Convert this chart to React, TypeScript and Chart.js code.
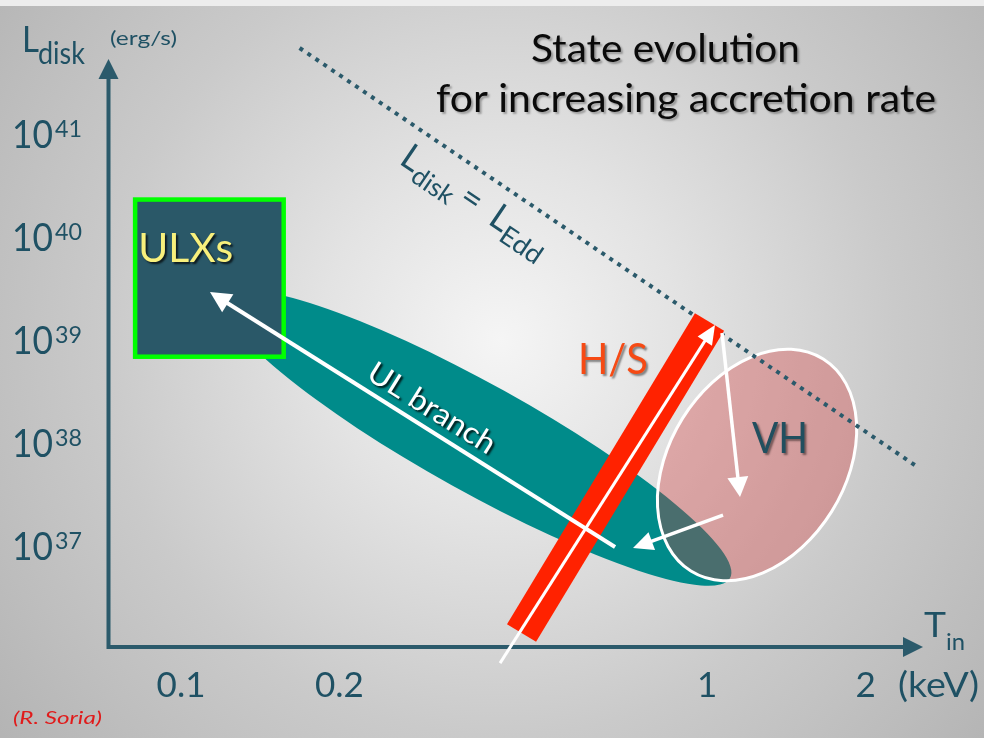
import React, { useEffect, useRef } from 'react';
import { Chart, registerables } from 'chart.js';

Chart.register(...registerables);

const FONT = 'Lato, "Open Sans", "DejaVu Sans", sans-serif';

// ---- axes (T_in in keV, L_disk in erg/s) ----
const xRange = [0.0728, 2.571];
const yRange = [1.045e36, 5.41e41];
const xTickValues = [0.1, 0.2, 1, 2];
const xTickLabels = ['0.1', '0.2', '1', '2'];
const yTickExponents = [37, 38, 39, 40, 41];

// ---- Eddington limit line: L_disk = L_Edd ----
const eddT = [0.168, 2.48];
const eddL = [6.92e41, 6.13e37];

// ---- ULX box (corners) ----
const ulxT = [0.0818, 0.1567];
const ulxL = [6.92e38, 2.33e40];

// ---- UL branch ellipse: centre, major-axis end, minor-axis end ----
const ulT = [0.3667, 1.105, 0.4113];
const ulL = [1.121e38, 4.89e36, 3.226e38];

// ---- VH ellipse: centre, major-axis end, minor-axis end ----
const vhT = [1.2437, 1.6613, 1.7234];
const vhL = [6.13e37, 6.57e38, 2.16e37];

// ---- H/S band ----
const hsT = [0.4437, 1.0101];
const hsL = [1.427e36, 1.503e39];

// ---- arrows: [tail, tip] ----
const arrowHsT = [0.4039, 1.0347];
const arrowHsL = [7.29e35, 1.405e39];
const arrowUlT = [0.6681, 0.1135];
const arrowUlL = [9.78e36, 2.94e39];
const arrowVhDownT = [1.0669, 1.1544];
const arrowVhDownL = [1.175e39, 2.995e37];
const arrowVhLeftT = [1.0716, 0.7227];
const arrowVhLeftL = [2.0e37, 9.56e36];

// ---- region labels (anchor = left end of baseline) ----
const labelTexts = ['ULXs', 'H/S', 'VH', 'UL branch'];
const labelT = [0.0829, 0.568, 1.2166, 0.2237];
const labelL = [5.75e39, 4.69e38, 8.01e37, 4.29e38];
const eddLabelT = 0.2585;
const eddLabelL = 5.27e40;

type P = { x: number; y: number };

function fitText(
  ctx: CanvasRenderingContext2D,
  text: string,
  x: number,
  y: number,
  size: number,
  width?: number,
  style = ''
) {
  ctx.font = `${style} ${size}px ${FONT}`;
  const w = ctx.measureText(text).width;
  const s = width ? width / w : 1;
  ctx.save();
  ctx.translate(x, y);
  ctx.scale(s, 1);
  ctx.textAlign = 'left';
  ctx.textBaseline = 'alphabetic';
  ctx.fillText(text, 0, 0);
  ctx.restore();
}

function shadow(ctx: CanvasRenderingContext2D, color: string, off = 2, blur = 2) {
  ctx.shadowColor = color;
  ctx.shadowOffsetX = off;
  ctx.shadowOffsetY = off;
  ctx.shadowBlur = blur;
}
function noShadow(ctx: CanvasRenderingContext2D) {
  ctx.shadowColor = 'rgba(0,0,0,0)';
  ctx.shadowBlur = 0;
  ctx.shadowOffsetX = 0;
  ctx.shadowOffsetY = 0;
}

function ellipsePath(ctx: CanvasRenderingContext2D, c: P, a: P, b: P) {
  ctx.save();
  ctx.beginPath();
  ctx.transform(a.x - c.x, a.y - c.y, b.x - c.x, b.y - c.y, c.x, c.y);
  ctx.arc(0, 0, 1, 0, Math.PI * 2);
  ctx.restore();
}

function arrow(ctx: CanvasRenderingContext2D, p0: P, p1: P, width: number, headLen: number, headHalf: number) {
  const dx = p1.x - p0.x;
  const dy = p1.y - p0.y;
  const L = Math.hypot(dx, dy);
  const ux = dx / L;
  const uy = dy / L;
  const bx = p1.x - ux * headLen;
  const by = p1.y - uy * headLen;
  ctx.strokeStyle = '#ffffff';
  ctx.fillStyle = '#ffffff';
  ctx.lineWidth = width;
  ctx.lineCap = 'butt';
  ctx.beginPath();
  ctx.moveTo(p0.x, p0.y);
  ctx.lineTo(bx + ux * 2, by + uy * 2);
  ctx.stroke();
  ctx.beginPath();
  ctx.moveTo(p1.x, p1.y);
  ctx.lineTo(bx - uy * headHalf, by + ux * headHalf);
  ctx.lineTo(bx + uy * headHalf, by - ux * headHalf);
  ctx.closePath();
  ctx.fill();
}

const AXIS = '#2b5a6b';
const TEXT = '#1f5164';

const schematicPlugin = {
  id: 'schematic',
  beforeDraw(chart: any) {
    const ctx: CanvasRenderingContext2D = chart.ctx;
    const W = chart.width;
    const H = chart.height;
    ctx.save();
    const g = ctx.createRadialGradient(500, 340, 0, 500, 340, 720);
    g.addColorStop(0, '#f5f5f5');
    g.addColorStop(0.25, '#e3e3e3');
    g.addColorStop(0.55, '#cacaca');
    g.addColorStop(0.75, '#bdbdbd');
    g.addColorStop(1, '#acacac');
    ctx.fillStyle = g;
    ctx.fillRect(0, 0, W, H);
    ctx.fillStyle = '#ededed';
    ctx.fillRect(0, 0, W, 6);
    ctx.restore();
  },
  beforeDatasetsDraw(chart: any) {
    const ctx: CanvasRenderingContext2D = chart.ctx;
    const xs = chart.scales.x;
    const ys = chart.scales.y;
    const p = (t: number, l: number): P => ({ x: xs.getPixelForValue(t), y: ys.getPixelForValue(l) });
    const { left, right, top, bottom } = chart.chartArea;
    ctx.save();

    // axes with arrow heads
    ctx.strokeStyle = AXIS;
    ctx.fillStyle = AXIS;
    ctx.lineWidth = 4;
    ctx.lineJoin = 'miter';
    ctx.beginPath();
    ctx.moveTo(left, top + 18);
    ctx.lineTo(left, bottom);
    ctx.lineTo(right - 18, bottom);
    ctx.stroke();
    ctx.beginPath();
    ctx.moveTo(left, top);
    ctx.lineTo(left - 10, top + 20);
    ctx.lineTo(left + 10, top + 20);
    ctx.closePath();
    ctx.fill();
    ctx.beginPath();
    ctx.moveTo(right, bottom);
    ctx.lineTo(right - 20, bottom - 10);
    ctx.lineTo(right - 20, bottom + 10);
    ctx.closePath();
    ctx.fill();

    // UL branch ellipse
    ellipsePath(ctx, p(ulT[0], ulL[0]), p(ulT[1], ulL[1]), p(ulT[2], ulL[2]));
    ctx.fillStyle = '#008b8a';
    ctx.fill();

    // ULX box
    const a = p(ulxT[0], ulxL[1]);
    const b = p(ulxT[1], ulxL[0]);
    ctx.fillStyle = '#2a5868';
    ctx.fillRect(a.x, a.y, b.x - a.x, b.y - a.y);
    ctx.strokeStyle = '#00ff00';
    ctx.lineWidth = 4.5;
    ctx.strokeRect(a.x, a.y, b.x - a.x, b.y - a.y);

    // VH ellipse (semi-transparent)
    ellipsePath(ctx, p(vhT[0], vhL[0]), p(vhT[1], vhL[1]), p(vhT[2], vhL[2]));
    ctx.fillStyle = 'rgba(211,56,56,0.35)';
    ctx.fill();
    ctx.strokeStyle = '#ffffff';
    ctx.lineWidth = 3;
    ctx.stroke();
    ctx.restore();
  },
  afterDatasetsDraw(chart: any) {
    const ctx: CanvasRenderingContext2D = chart.ctx;
    const xs = chart.scales.x;
    const ys = chart.scales.y;
    const p = (t: number, l: number): P => ({ x: xs.getPixelForValue(t), y: ys.getPixelForValue(l) });
    ctx.save();

    // arrows
    arrow(ctx, p(arrowHsT[0], arrowHsL[0]), p(arrowHsT[1], arrowHsL[1]), 3, 19, 8.5);
    arrow(ctx, p(arrowUlT[0], arrowUlL[0]), p(arrowUlT[1], arrowUlL[1]), 4, 21, 10.5);
    arrow(ctx, p(arrowVhDownT[0], arrowVhDownL[0]), p(arrowVhDownT[1], arrowVhDownL[1]), 3.5, 20, 10.5);
    arrow(ctx, p(arrowVhLeftT[0], arrowVhLeftL[0]), p(arrowVhLeftT[1], arrowVhLeftL[1]), 3.5, 20, 9.5);

    // region labels
    let q = p(labelT[0], labelL[0]);
    ctx.fillStyle = '#f8f07c';
    shadow(ctx, 'rgba(0,0,0,0.7)', 2, 2);
    fitText(ctx, labelTexts[0], q.x, q.y, 40, 95);
    q = p(labelT[1], labelL[1]);
    ctx.fillStyle = '#f64a14';
    shadow(ctx, 'rgba(0,0,0,0.45)', 2, 2);
    fitText(ctx, labelTexts[1], q.x, q.y, 43, 70);
    q = p(labelT[2], labelL[2]);
    ctx.fillStyle = '#214f5f';
    shadow(ctx, 'rgba(0,0,0,0.45)', 2, 2);
    fitText(ctx, labelTexts[2], q.x, q.y, 42, 56);
    q = p(labelT[3], labelL[3]);
    ctx.save();
    ctx.translate(q.x, q.y);
    ctx.rotate((32 * Math.PI) / 180);
    ctx.fillStyle = '#ffffff';
    shadow(ctx, 'rgba(0,0,0,0.8)', 2, 2);
    fitText(ctx, labelTexts[3], 0, 0, 30, 145);
    ctx.restore();
    noShadow(ctx);

    // L_disk = L_Edd label, rotated along the line
    q = p(eddLabelT, eddLabelL);
    ctx.save();
    ctx.translate(q.x, q.y);
    ctx.rotate((34 * Math.PI) / 180);
    ctx.fillStyle = TEXT;
    fitText(ctx, 'L', 0, 0, 36, 18);
    fitText(ctx, 'disk', 19, 8, 26, 45);
    fitText(ctx, '=', 71, 0, 36, 20);
    fitText(ctx, 'L', 107, 0, 36, 18);
    fitText(ctx, 'Edd', 125, 8, 26, 46);
    ctx.restore();

    // title
    ctx.fillStyle = '#0a0a0a';
    shadow(ctx, 'rgba(0,0,0,0.3)', 2, 2);
    fitText(ctx, 'State evolution', 531, 62, 39, 269);
    fitText(ctx, 'for increasing accretion rate', 436, 112, 38, 500);
    noShadow(ctx);

    // y tick labels 10^n
    ctx.fillStyle = TEXT;
    yTickExponents.forEach((e) => {
      const y = ys.getPixelForValue(Math.pow(10, e));
      fitText(ctx, '10', 12, y + 14, 39, 41);
      fitText(ctx, String(e), 55, y + 3, 24, 27);
    });

    // x tick labels
    ctx.font = `35px ${FONT}`;
    xTickValues.forEach((v, i) => {
      const x = xs.getPixelForValue(v);
      ctx.textAlign = 'center';
      ctx.textBaseline = 'alphabetic';
      ctx.fillText(xTickLabels[i], x, 697);
    });
    fitText(ctx, '(keV)', 898, 697, 35, 81);

    // axis titles
    fitText(ctx, 'T', 924, 637, 35, 22);
    fitText(ctx, 'in', 946, 650, 24, 19);
    fitText(ctx, 'L', 22, 52, 37, 17);
    fitText(ctx, 'disk', 38, 64, 30, 47);
    fitText(ctx, '(erg/s)', 110, 45, 19, 67);

    // credit
    ctx.fillStyle = '#e01b1b';
    fitText(ctx, '(R. Soria)', 13, 724, 18, 89, 'italic');
    ctx.restore();
  },
};

export default function App() {
  const ref = useRef<HTMLCanvasElement>(null);
  useEffect(() => {
    document.body.style.margin = '0';
    const canvas = ref.current!;
    const chart = new Chart(canvas, {
      type: 'scatter',
      data: {
        datasets: [
          {
            label: 'H/S',
            data: hsT.map((t, i) => ({ x: t, y: hsL[i] })),
            showLine: true,
            borderColor: '#ff2200',
            backgroundColor: '#ff2200',
            borderWidth: 34,
            borderCapStyle: 'butt',
            pointRadius: 0,
            clip: false,
          } as any,
          {
            label: 'Ldisk = LEdd',
            data: eddT.map((t, i) => ({ x: t, y: eddL[i] })),
            showLine: true,
            borderColor: AXIS,
            backgroundColor: AXIS,
            borderWidth: 4,
            borderDash: [4, 5.6],
            borderCapStyle: 'butt',
            pointRadius: 0,
            clip: false,
          } as any,
        ],
      },
      options: {
        responsive: false,
        animation: false,
        devicePixelRatio: 1,
        layout: { padding: { left: 108.5, top: 59, right: 61, bottom: 91 } },
        scales: {
          x: { type: 'logarithmic', min: xRange[0], max: xRange[1], display: false, bounds: 'data' } as any,
          y: { type: 'logarithmic', min: yRange[0], max: yRange[1], display: false, bounds: 'data' } as any,
        },
        plugins: { legend: { display: false }, tooltip: { enabled: false } },
        events: [],
      },
      plugins: [schematicPlugin],
    });
    let alive = true;
    if ((document as any).fonts && (document as any).fonts.load) {
      Promise.all([
        (document as any).fonts.load('20px Lato'),
        (document as any).fonts.load('italic 20px Lato'),
      ]).then(() => {
        if (alive) chart.draw();
      }).catch(() => {});
    }
    return () => {
      alive = false;
      chart.destroy();
    };
  }, []);
  return (
    <div style={{ width: 984, height: 738, position: 'relative' }}>
      <canvas ref={ref} width={984} height={738} style={{ display: 'block', width: 984, height: 738 }} />
    </div>
  );
}
